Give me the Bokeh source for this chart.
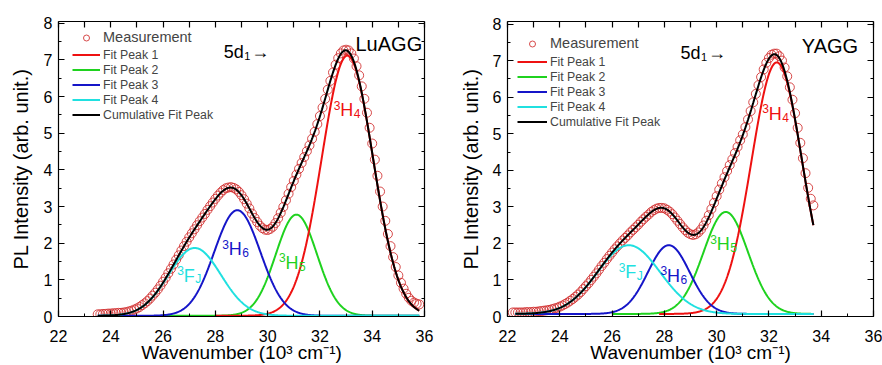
import numpy as np
from bokeh.plotting import figure
from bokeh.layouts import row
from bokeh.models import (LinearAxis, SingleIntervalTicker, Range1d, Legend,
                          LegendItem, Label, CustomJSTickFormatter)
from bokeh.embed import file_html
from bokeh.resources import INLINE
from bokeh.core.properties import value

FONT = "Liberation Sans"
PEAK_NAMES = ["Fit Peak 1", "Fit Peak 2", "Fit Peak 3", "Fit Peak 4"]
PEAK_COLORS = ["#ee1111", "#1fd21f", "#1515c8", "#20e0e0"]
MEAS_COLOR = "#d02a2a"

X_MIN, X_MAX = 22, 36
X_LABEL = "Wavenumber (10\u00b3 cm\u207b\u00b9)"
Y_LABEL = "PL Intensity (arb. unit.)"

# ---- (a) LuAGG -----------------------------------------------------------
lu_start, lu_step = 23.5, 0.1
lu_meas = [
    0.06, 0.06, 0.07, 0.07, 0.08,
    0.08, 0.09, 0.09, 0.10, 0.10, 0.11, 0.12, 0.14, 0.16, 0.19,
    0.22, 0.26, 0.31, 0.36, 0.42, 0.49, 0.57, 0.65, 0.74, 0.84,
    0.95, 1.06, 1.18, 1.30, 1.42, 1.55, 1.67, 1.80, 1.92, 2.04,
    2.16, 2.27, 2.38, 2.49, 2.60, 2.70, 2.80, 2.91, 3.01, 3.11,
    3.21, 3.30, 3.38, 3.45, 3.50, 3.52, 3.53, 3.51, 3.47, 3.40,
    3.31, 3.20, 3.08, 2.95, 2.81, 2.69, 2.58, 2.48, 2.41, 2.37,
    2.36, 2.39, 2.45, 2.55, 2.68, 2.83, 2.99, 3.17, 3.35, 3.53,
    3.70, 3.87, 4.03, 4.19, 4.35, 4.51, 4.67, 4.85, 5.04, 5.25,
    5.47, 5.70, 5.94, 6.19, 6.43, 6.66, 6.87, 7.05, 7.18, 7.26,
    7.28, 7.26, 7.18, 7.04, 6.83, 6.58, 6.28, 5.94, 5.56, 5.15,
    4.72, 4.28, 3.84, 3.41, 3.00, 2.61, 2.25, 1.92, 1.62, 1.35,
    1.12, 0.92, 0.76, 0.62, 0.51, 0.43, 0.38, 0.35, 0.33,
]
# Gaussian fit components: 3H4, 3H5, 3H6, 3FJ
lu_center = [33.05, 31.10, 28.84, 27.21]
lu_height = [7.10, 2.76, 2.88, 1.85]
lu_sigma = [0.98, 0.79, 0.88, 1.00]
lu_fit_from = [28.0, 26.0, 23.5, 23.5]
lu_fit_to = 35.8
lu_baseline = 0.02

# ---- (b) YAGG ------------------------------------------------------------
ya_start, ya_step = 22.2, 0.1
ya_meas = [
    0.11, 0.11, 0.11, 0.11, 0.11, 0.12, 0.12, 0.12,
    0.13, 0.13, 0.14, 0.15, 0.16, 0.17, 0.18, 0.20, 0.22, 0.24,
    0.27, 0.30, 0.34, 0.38, 0.43, 0.48, 0.54, 0.60, 0.67, 0.75,
    0.83, 0.91, 1.00, 1.09, 1.18, 1.28, 1.38, 1.47, 1.57, 1.66,
    1.75, 1.84, 1.92, 2.00, 2.08, 2.15, 2.22, 2.30, 2.37, 2.44,
    2.51, 2.59, 2.66, 2.73, 2.79, 2.86, 2.91, 2.95, 2.97, 2.97,
    2.96, 2.92, 2.87, 2.80, 2.71, 2.62, 2.53, 2.44, 2.36, 2.29,
    2.25, 2.23, 2.25, 2.30, 2.38, 2.49, 2.62, 2.77, 2.94, 3.11,
    3.29, 3.47, 3.64, 3.81, 3.98, 4.14, 4.30, 4.47, 4.64, 4.82,
    4.98, 5.18, 5.39, 5.62, 5.86, 6.09, 6.33, 6.55, 6.76, 6.94,
    7.07, 7.16, 7.19, 7.19, 7.12, 7.00, 6.81, 6.57, 6.27, 5.93,
    5.56, 5.16, 4.75, 4.33, 3.92, 3.52, 3.22, 3.04,
]
ya_center = [32.30, 30.35, 28.17, 26.64]
ya_height = [6.88, 2.79, 1.88, 1.88]
ya_sigma = [0.97, 0.85, 0.80, 1.20]
ya_fit_from = [27.8, 26.0, 22.3, 22.3]
ya_fit_to = 33.7
ya_baseline = 0.07


def gauss(x, c, h, s):
    return h * np.exp(-((x - c) ** 2) / (2.0 * s ** 2))


def style_axis(ax):
    ax.axis_line_color = "black"
    ax.axis_line_width = 1.2
    ax.major_tick_line_color = "black"
    ax.minor_tick_line_color = "black"
    ax.major_tick_line_width = 1.2
    ax.minor_tick_line_width = 1.0
    ax.major_tick_in = 6
    ax.major_tick_out = 0
    ax.minor_tick_in = 3
    ax.minor_tick_out = 0
    ax.major_label_text_font = FONT
    ax.major_label_text_font_size = "16px"
    ax.major_label_text_color = "black"
    ax.axis_label_text_font = FONT
    ax.axis_label_text_font_style = "normal"
    ax.axis_label_text_color = "black"


def term(p, x, y, sup, main, sub, color, px_x, px_y):
    """Spectroscopic term such as 3H4: raised multiplicity, letter, lowered J."""
    main_w = {"H": 13.0, "F": 11.0}[main]
    common = dict(text_font=value(FONT), text_color=color,
                  text_align="left", text_baseline="alphabetic")
    p.text(x=[x], y=[y + 5.0 * px_y], text=[sup], text_font_size="12px", **common)
    p.text(x=[x + 6.5 * px_x], y=[y], text=[main], text_font_size="18px", **common)
    p.text(x=[x + (7.0 + main_w) * px_x], y=[y - 3.5 * px_y], text=[sub],
           text_font_size="12px", **common)


def panel(cfg):
    p = figure(width=cfg["width"], height=365,
               x_range=Range1d(X_MIN, X_MAX), y_range=Range1d(0, cfg["y_top"]),
               output_backend="svg", toolbar_location=None,
               min_border_left=cfg["border"][0], min_border_right=cfg["border"][1],
               min_border_top=cfg["border"][2], min_border_bottom=cfg["border"][3],
               background_fill_color="white", border_fill_color="white",
               outline_line_color=None)
    p.grid.visible = False

    bottom = p.below[0]
    left = p.left[0]
    bottom.ticker = SingleIntervalTicker(interval=2, num_minor_ticks=2)
    left.ticker = SingleIntervalTicker(interval=1, num_minor_ticks=2)
    bottom.axis_label = X_LABEL
    left.axis_label = Y_LABEL
    top = LinearAxis(ticker=SingleIntervalTicker(interval=1, num_minor_ticks=0),
                     formatter=CustomJSTickFormatter(code="return ''"),
                     major_label_standoff=0)
    right = LinearAxis(ticker=SingleIntervalTicker(interval=1, num_minor_ticks=2),
                       formatter=CustomJSTickFormatter(code="return ''"),
                       major_label_standoff=0)
    p.add_layout(top, "above")
    p.add_layout(right, "right")
    for ax in [bottom, left, top, right]:
        style_axis(ax)
    bottom.major_label_standoff = 13
    bottom.axis_label_text_font_size = "19px"
    bottom.axis_label_standoff = -3
    left.major_label_standoff = 6
    left.axis_label_text_font_size = "20px"
    left.axis_label_standoff = cfg["ylabel_standoff"]

    meas = np.array(cfg["meas"])
    mx = cfg["start"] + cfg["step"] * np.arange(len(meas))
    r_meas = p.scatter(mx, meas, marker="circle", size=9, fill_color=None,
                       line_color=MEAS_COLOR, line_width=1.0, line_alpha=0.85)

    base = cfg["baseline"]
    fine = np.arange(cfg["fit_from"][2], cfg["fit_to"] + 1e-9, 0.02)
    cumulative = np.full_like(fine, base)
    peak_renderers = [None] * 4
    for i in range(4):
        cumulative += gauss(fine, cfg["center"][i], cfg["height"][i], cfg["sigma"][i])
    # draw order: peak 2, peak 1, peak 3, peak 4, then the cumulative fit
    for i in [1, 0, 2, 3]:
        fx = np.arange(cfg["fit_from"][i], cfg["fit_to"] + 1e-9, 0.02)
        fy = base + gauss(fx, cfg["center"][i], cfg["height"][i], cfg["sigma"][i])
        peak_renderers[i] = p.line(fx, fy, line_color=PEAK_COLORS[i], line_width=2)
    r_cum = p.line(fine, cumulative, line_color="black", line_width=2)

    px_x = (X_MAX - X_MIN) / 366.0
    px_y = cfg["y_top"] / 296.0
    for (tx, ty, sup, main, sub, ci) in cfg["terms"]:
        term(p, tx, ty, sup, main, sub, PEAK_COLORS[ci], px_x, px_y)

    # 5d1 -> arrow
    dx, dy = cfg["arrow_at"]
    common = dict(text_font=value(FONT), text_color="black",
                  text_align="left", text_baseline="alphabetic")
    p.text(x=[dx], y=[dy], text=["5d"], text_font_size="18px", **common)
    p.text(x=[dx + 20.5 * px_x], y=[dy - 3.5 * px_y], text=["1"], text_font_size="11px", **common)
    p.text(x=[dx + 27.5 * px_x], y=[dy + 0.5 * px_y], text=["\u2192"], text_font_size="18px", **common)

    nx, ny = cfg["name_at"]
    p.text(x=[nx], y=[ny], text=[cfg["name"]], text_font_size="20px", **common)

    tx, ty = cfg["tag_at"]
    p.add_layout(Label(x=tx, y=ty, text=cfg["tag"], text_font=FONT,
                       text_font_size="18px", text_color="black",
                       text_align="left", text_baseline="alphabetic"))

    gw = cfg["glyph_w"]
    leg_meas = Legend(items=[LegendItem(label="Measurement", renderers=[r_meas])],
                      location=cfg["meas_leg"], glyph_width=gw, glyph_height=15,
                      label_height=15, spacing=0, padding=0, margin=0,
                      label_standoff=3, label_text_font=FONT,
                      label_text_font_size="14.5px", background_fill_alpha=0,
                      border_line_color=None)
    items = [LegendItem(label=PEAK_NAMES[i], renderers=[peak_renderers[i]]) for i in range(4)]
    items.append(LegendItem(label="Cumulative Fit Peak", renderers=[r_cum]))
    leg_fit = Legend(items=items, location=cfg["fit_leg"], glyph_width=gw,
                     glyph_height=15, label_height=15, spacing=0, padding=0,
                     margin=0, label_standoff=3, label_text_font=FONT,
                     label_text_font_size="12.3px", background_fill_alpha=0,
                     border_line_color=None)
    p.add_layout(leg_meas)
    p.add_layout(leg_fit)
    return p


cfg_a = dict(width=440, y_top=8.05, border=(58, 16, 21, 49), ylabel_standoff=9,
             meas=lu_meas, start=lu_start, step=lu_step,
             center=lu_center, height=lu_height, sigma=lu_sigma,
             fit_from=lu_fit_from, fit_to=lu_fit_to, baseline=lu_baseline,
             terms=[(32.53, 5.63, "3", "H", "4", 0),
                    (30.43, 1.47, "3", "H", "5", 1),
                    (28.26, 1.83, "3", "H", "6", 2),
                    (26.54, 1.11, "3", "F", "J", 3)],
             arrow_at=(28.32, 7.21), name="LuAGG", name_at=(33.36, 7.43),
             tag="(a)", tag_at=(20.29, 7.75),
             glyph_w=28, meas_leg=(14, 271), fit_leg=(14, 194))

cfg_b = dict(width=442, y_top=8.07, border=(67, 9, 21, 47), ylabel_standoff=8,
             meas=ya_meas, start=ya_start, step=ya_step,
             center=ya_center, height=ya_height, sigma=ya_sigma,
             fit_from=ya_fit_from, fit_to=ya_fit_to, baseline=ya_baseline,
             terms=[(31.74, 5.55, "3", "H", "4", 0),
                    (29.76, 1.98, "3", "H", "5", 1),
                    (27.85, 1.11, "3", "H", "6", 2),
                    (26.26, 1.21, "3", "F", "J", 3)],
             arrow_at=(28.62, 7.20), name="YAGG", name_at=(33.26, 7.41),
             tag="(b)", tag_at=(20.03, 7.82),
             glyph_w=30, meas_leg=(10, 265), fit_leg=(10, 187))

layout = row(panel(cfg_a), panel(cfg_b))
open("out.html", "w").write(file_html(layout, INLINE))
